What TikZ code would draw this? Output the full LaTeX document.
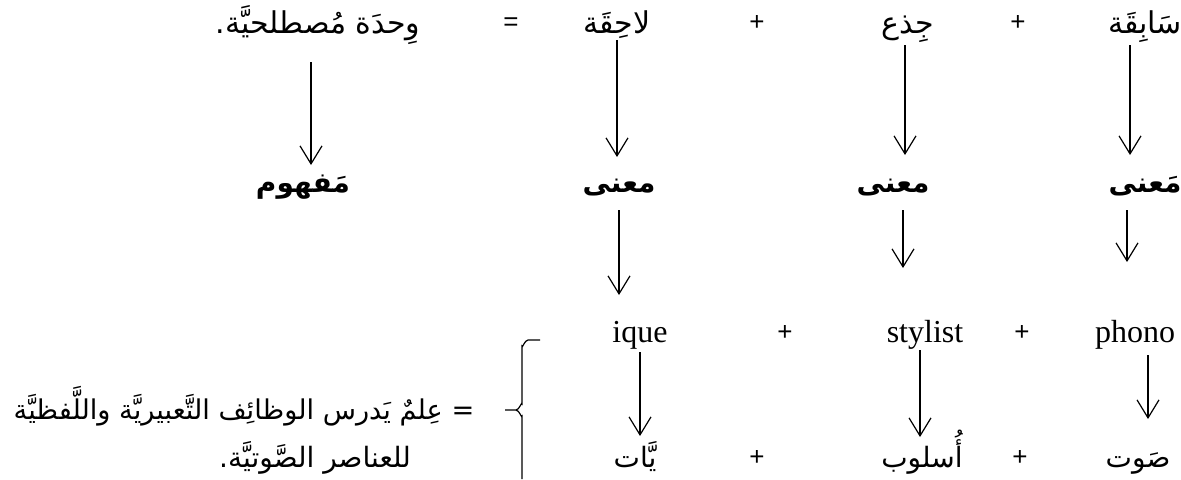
\documentclass[tikz,border=0pt]{standalone}
\usepackage{fontspec}
\setmainfont{Liberation Serif}
\newfontfamily\arabicfont[Script=Arabic]{DejaVu Sans}
\newfontfamily\signfont{Liberation Sans}
\TeXXeTstate=1
\usetikzlibrary{arrows.meta}
\newcommand{\rtl}[1]{\beginR #1\endR}

\begin{document}
\begin{tikzpicture}[x=0.5pt, y=-0.5pt, line width=0.6pt,
    arr/.style={-{Straight Barb[length=9pt,width=11pt,line width=0.6pt]}},
    every node/.style={inner sep=0pt, anchor=base},
    word/.style={font=\arabicfont\fontsize{15}{17}\selectfont},
    gloss/.style={font=\arabicfont\fontsize{14}{16}\selectfont},
    term/.style={font=\arabicfont\bfseries\fontsize{14}{16}\selectfont},
    latin/.style={font=\fontsize{16}{18}\selectfont},
    sign/.style={font=\signfont\fontsize{13}{15}\selectfont}]
    \useasboundingbox (0,0) rectangle (1181,479);

    % Row 1: prefix + stem + suffix = term
    \node[word] (sabiqa) at (1145,33) {\rtl{سَابِقَة}};
    \node[sign] (plusA) at (1018,30) {+};
    \node[word] (jidh) at (908,33) {\rtl{جِذع}};
    \node[sign] (plusB) at (757,30) {+};
    \node[word] (lahiqa) at (617,33) {\rtl{لاحِقَة}};
    \node[sign] (equal) at (511,30) {=};
    \node[word] (wahda) at (318,33) {\rtl{وِحدَة مُصطلحيَّة.}};

    % Row 2: meanings
    \node[term] (mana1) at (1145,192) {\rtl{مَعنى}};
    \node[term] (mana2) at (893,192) {\rtl{معنى}};
    \node[term] (mana3) at (619,192) {\rtl{معنى}};
    \node[term] (mafhum) at (303,192) {\rtl{مَفهوم}};

    % Row 3: latin parts
    \node[latin] (phono) at (1135,342) {phono};
    \node[sign] (plusC) at (1022,340) {+};
    \node[latin] (stylist) at (925,342) {stylist};
    \node[sign] (plusD) at (785,340) {+};
    \node[latin] (ique) at (640,342) {ique};

    % Row 4: arabic equivalents
    \node[gloss] (sawt) at (1138,467) {\rtl{صَوت}};
    \node[sign] (plusE) at (1020,465) {+};
    \node[gloss] (uslub) at (922,467) {\rtl{أُسلوب}};
    \node[sign] (plusF) at (757,465) {+};
    \node[gloss] (yyat) at (635,467) {\rtl{يَّات}};

    % Definition
    \node[gloss, font=\arabicfont\fontsize{13.6}{16}\selectfont, anchor=base east] (defA) at (475,419) {\rtl{= عِلمٌ يَدرس الوظائِف التَّعبيريَّة واللَّفظيَّة}};
    \node[gloss] (defB) at (315,467) {\rtl{للعناصر الصَّوتيَّة.}};

    % Arrows row 1 -> row 2
    \draw[arr, shorten <=14.5pt, shorten >=13.5pt] ([xshift=-3.5pt]wahda.base) -- ([xshift=-3.5pt]wahda.base |- mafhum.base);
    \draw[arr, shorten <=3.5pt, shorten >=17.5pt] (lahiqa.base) -- (lahiqa.base |- mana3.base);
    \draw[arr, shorten <=6pt, shorten >=18.5pt] ([xshift=-1.5pt]jidh.base) -- ([xshift=-1.5pt]jidh.base |- mana2.base);
    \draw[arr, shorten <=6pt, shorten >=18.5pt] ([xshift=-7.5pt]sabiqa.base) -- ([xshift=-7.5pt]sabiqa.base |- mana1.base);

    % Arrows row 2 -> row 3
    \draw[arr, shorten <=9pt, shorten >=23.5pt] (mana3.base) -- (mana3.base |- ique.base);
    \draw[arr, shorten <=9pt, shorten >=37pt] ([xshift=5pt]mana2.base) -- ([xshift=5pt]mana2.base |- stylist.base);
    \draw[arr, shorten <=9pt, shorten >=40pt] ([xshift=-9pt]mana1.base) -- ([xshift=-9pt]mana1.base |- phono.base);

    % Arrows row 3 -> row 4
    \draw[arr, shorten <=5pt, shorten >=15.5pt] (ique.base) -- (ique.base |- yyat.base);
    \draw[arr, shorten <=4pt, shorten >=15pt] ([xshift=-2.5pt]stylist.base) -- ([xshift=-2.5pt]stylist.base |- uslub.base);
    \draw[arr, shorten <=6.5pt, shorten >=24pt] ([xshift=6.5pt]phono.base) -- ([xshift=6.5pt]phono.base |- sawt.base);

    % Brace
    \draw (540,340) -- (528,340) to[out=180,in=-90] (522,346) -- (522,404)
        to[out=90,in=0] (516,410) -- (505,410);
    \draw (516,410) to[out=0,in=-90] (522,416) -- (522,479);
\end{tikzpicture}
\end{document}
